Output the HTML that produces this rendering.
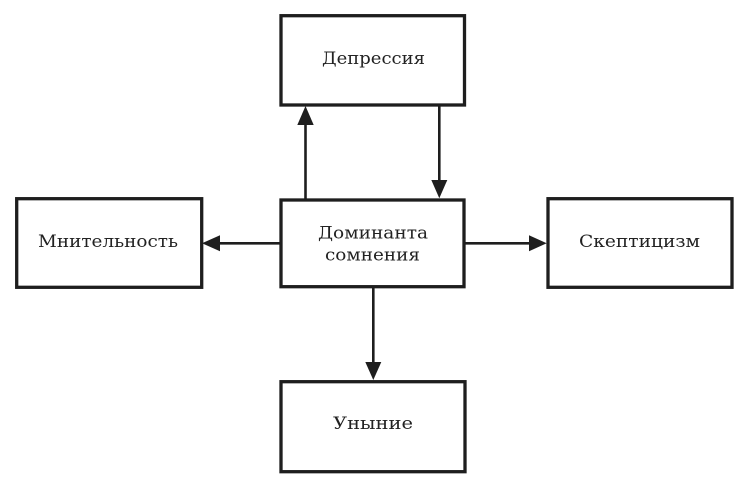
<!DOCTYPE html>
<html>
<head>
<meta charset="utf-8">
<style>
html,body{margin:0;padding:0;background:#fff;}
svg{display:block;}
text{font-family:"DejaVu Serif","Liberation Serif",serif;font-size:17px;fill:#222;}
</style>
</head>
<body>
<svg width="750" height="489" viewBox="0 0 750 489" xmlns="http://www.w3.org/2000/svg">
  <g fill="none" stroke="#1e1e1e" stroke-width="3.3">
    <rect x="281" y="15.7" width="183.5" height="89.3"/>
    <rect x="281" y="200" width="183" height="86.7"/>
    <rect x="16.7" y="198.7" width="185" height="88.6"/>
    <rect x="548" y="198.7" width="184" height="88.6"/>
    <rect x="281" y="381.7" width="184" height="90"/>
  </g>
  <g stroke="#1e1e1e" stroke-width="2.6" fill="none">
    <line x1="305.5" y1="200" x2="305.5" y2="122"/>
    <line x1="439.3" y1="106" x2="439.3" y2="184"/>
    <line x1="281" y1="243.3" x2="217" y2="243.3"/>
    <line x1="464" y1="243.3" x2="533" y2="243.3"/>
    <line x1="373.3" y1="287" x2="373.3" y2="366"/>
  </g>
  <g fill="#1e1e1e">
    <polygon points="305.5,106 297.3,125 313.7,125"/>
    <polygon points="439.3,198.3 431.3,180 447.3,180"/>
    <polygon points="202,243.3 220,235.3 220,251.3"/>
    <polygon points="546.7,243.3 529,235.3 529,251.3"/>
    <polygon points="373.3,380 365.3,362 381.3,362"/>
  </g>
  <text x="322" y="64" textLength="103" lengthAdjust="spacingAndGlyphs">Депрессия</text>
  <text x="318" y="238.5" textLength="110" lengthAdjust="spacingAndGlyphs">Доминанта</text>
  <text x="325" y="260.5" textLength="95" lengthAdjust="spacingAndGlyphs">сомнения</text>
  <text x="38" y="247" textLength="140" lengthAdjust="spacingAndGlyphs">Мнительность</text>
  <text x="579" y="247" textLength="121" lengthAdjust="spacingAndGlyphs">Скептицизм</text>
  <text x="333" y="429" textLength="80" lengthAdjust="spacingAndGlyphs">Уныние</text>
</svg>
</body>
</html>
